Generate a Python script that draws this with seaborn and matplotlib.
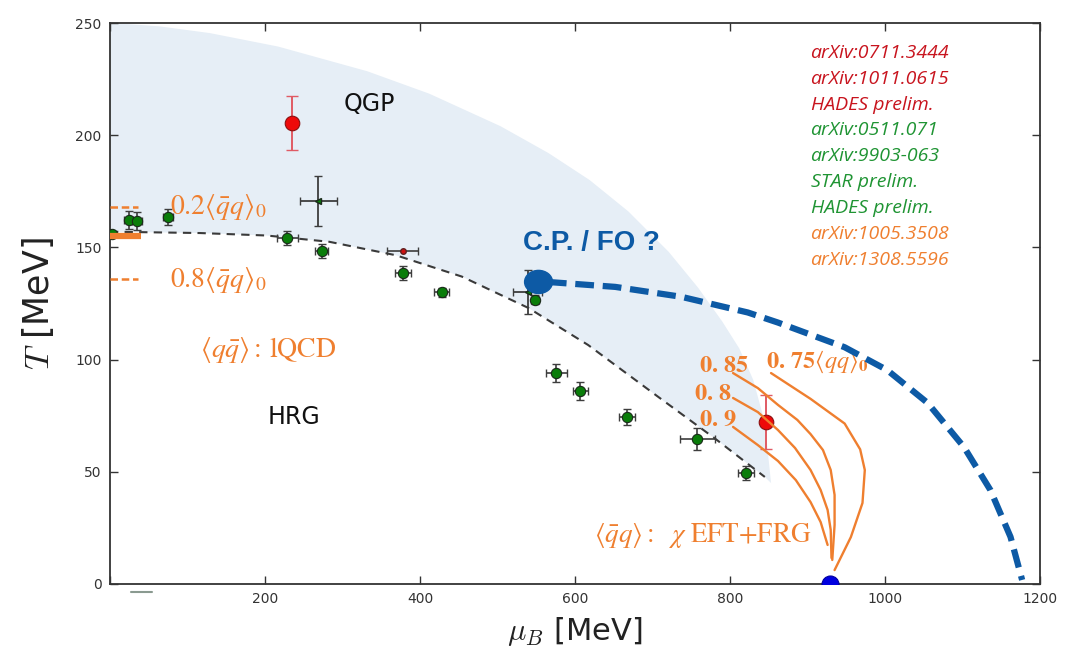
import numpy as np
import matplotlib
matplotlib.use("Agg")
import matplotlib.pyplot as plt
from matplotlib.patches import Ellipse
import seaborn as sns

# ---------------- data ----------------
# shaded QGP band: upper edge and lower edge (lower edge = freeze-out curve)
band_mu_up = [0, 4, 64, 129, 217, 332, 412, 504, 566, 619, 669, 721, 759, 790, 812, 830, 845, 853]
band_T_up = [250, 250, 248.5, 245.5, 239.5, 228.5, 218.5, 204, 192, 180, 166, 148, 132, 117, 105, 91, 72, 45]

fo_mu = [0, 116, 202, 283, 369, 454, 540, 617, 707, 780, 845]
fo_T = [157, 156.4, 155.3, 152.5, 146.5, 137, 123, 106.5, 83.5, 65, 47.7]

# freeze-out data (green circles)
g_mu = [2, 24, 35, 75, 229, 273, 378, 428, 548, 576, 607, 667, 758, 821]
g_T = [156, 162.2, 161.8, 163.5, 154.2, 148.4, 138.6, 130.1, 126.6, 94, 86, 74.4, 64.6, 49.5]
g_xerr = [0, 6, 6, 6, 13, 8, 10, 10, 5, 14, 10, 10, 23, 10]
g_yerr = [0, 4, 4, 3.5, 3, 3, 3, 2, 2, 4, 4, 3.5, 5, 3]

# STAR prelim (green triangles, large errors)
s_mu = [269, 539]
s_T = [170.7, 130.1]
s_xerr = [24, 19]
s_yerr = [11, 10]

# red points
r_mu = [235, 846]
r_T = [205.4, 72.2]
r_yerr = [12, 12]
rs_mu, rs_T, rs_xerr = [378], [148.4], [20]

# critical point / first order line
cp_mu, cp_T = 553, 134.6
fol_mu = [565, 652, 737, 823, 862, 948, 1003, 1055, 1102, 1136, 1162, 1177]
fol_T = [134.6, 132.4, 128, 121, 116.5, 105.5, 95.3, 80.7, 61, 41.9, 21, 1.8]

# nuclear matter point
nm_mu, nm_T = 929, 0

# chiral condensate contours (chiEFT+FRG)
c75_mu = [853, 904, 948, 968, 974, 971, 956, 935]
c75_T = [94, 82.5, 71.5, 60, 50.8, 36.1, 20.9, 6.2]
c85_mu = [804, 836, 862, 887, 904, 920, 930, 935, 935, 932]
c85_T = [94, 87.3, 79.8, 73.1, 66.8, 59.7, 50.8, 39.7, 26.3, 10.7]
c80_mu = [804, 836, 862, 884, 904, 917, 926, 930, 931]
c80_T = [82.9, 76.6, 68.6, 60.6, 50.8, 41.9, 33, 24.1, 11.6]
c90_mu = [804, 836, 862, 885, 904, 917, 926]
c90_T = [70, 61.9, 54.8, 46.3, 36.5, 27.6, 17.4]

# lattice QCD condensate levels
lqcd_T_02, lqcd_T_05, lqcd_T_08 = 168, 155, 136

refs = ["arXiv:0711.3444", "arXiv:1011.0615", "HADES prelim.",
        "arXiv:0511.071", "arXiv:9903-063", "STAR prelim.", "HADES prelim.",
        "arXiv:1005.3508", "arXiv:1308.5596"]
ref_groups = ["red"] * 3 + ["green"] * 4 + ["orange"] * 2

# ---------------- styling ----------------
ORANGE = "#ef7f2f"
BLUE = "#0d5aa5"
SHADE = "#e6eef6"
ref_col = {"red": "#c8141e", "green": "#1f9433", "orange": ORANGE}

sns.set_style("ticks")
plt.rcParams["font.family"] = ["DejaVu Sans"]

fig = plt.figure(figsize=(10.73, 6.61), dpi=100)
ax = fig.add_axes([0.1025, 0.1165, 0.8667, 0.8487])

# band
poly_mu = band_mu_up + fo_mu[::-1]
poly_T = band_T_up + fo_T[::-1]
ax.fill(poly_mu, poly_T, color=SHADE, lw=0, zorder=0)

# freeze-out curve
sns.lineplot(x=fo_mu, y=fo_T, ax=ax, sort=False, estimator=None, color="#3a3a3a",
             lw=1.5, linestyle=(0, (4, 3)), zorder=2)

# lattice levels on the left
ax.plot([0, 40], [lqcd_T_05] * 2, color=ORANGE, lw=4.5, solid_capstyle="butt", zorder=6)
for tv in (lqcd_T_02, lqcd_T_08):
    ax.plot([0, 36], [tv] * 2, color=ORANGE, lw=1.8, linestyle=(0, (3, 1.5)), zorder=6)

# data points
ax.errorbar(g_mu, g_T, xerr=g_xerr, yerr=g_yerr, fmt="none", ecolor="#3d3d3d",
            elinewidth=1.2, capsize=3, zorder=3)
sns.scatterplot(x=g_mu, y=g_T, ax=ax, color="#0a7d0a", edgecolor="#1a2a1a",
                s=55, linewidth=0.8, zorder=4)
ax.errorbar(s_mu, s_T, xerr=s_xerr, yerr=s_yerr, fmt="<", color="#0a7d0a", mec="#1a2a1a",
            ms=5, ecolor="#3d3d3d", elinewidth=1.3, capsize=3, zorder=4)
ax.errorbar(r_mu, r_T, yerr=r_yerr, fmt="none", ecolor="#e05a64", elinewidth=1.4,
            capsize=4, zorder=3)
sns.scatterplot(x=r_mu, y=r_T, ax=ax, color="#ee0a0a", edgecolor="#8a1010",
                s=110, linewidth=0.8, zorder=5)
ax.errorbar(rs_mu, rs_T, xerr=rs_xerr, fmt="o", color="#d01010", mec="#602020", ms=4,
            ecolor="#3d3d3d", elinewidth=1.2, capsize=3, zorder=4)

# chiral contours
for cm, ct in [(c75_mu, c75_T), (c85_mu, c85_T), (c80_mu, c80_T), (c90_mu, c90_T)]:
    sns.lineplot(x=cm, y=ct, ax=ax, sort=False, estimator=None, color=ORANGE, lw=1.7, zorder=6)

# first order line + critical point
sns.lineplot(x=fol_mu, y=fol_T, ax=ax, sort=False, estimator=None, color=BLUE, lw=4.5,
             linestyle=(0, (3, 1.4)), zorder=8)
ax.add_patch(Ellipse((cp_mu, cp_T), 36, 10.3, color=BLUE, zorder=9))
sns.scatterplot(x=[nm_mu], y=[nm_T], ax=ax, color="#0000e0", edgecolor="#0000a0",
                s=150, linewidth=0.8, zorder=9)

# labels
ax.text(334, 214, "QGP", fontsize=17, ha="center", va="center", color="#111111")
ax.text(237, 74.4, "HRG", fontsize=17, ha="center", va="center", color="#111111")
ax.text(621, 152, "C.P. / FO ?", fontsize=20, ha="center", va="center", color=BLUE,
        fontweight="bold", family="Liberation Sans")

mkw = dict(color=ORANGE, va="center", ha="left", math_fontfamily="stix")
ax.text(77, 168, r"$0.2\langle\bar{q}q\rangle_0$", fontsize=20, **mkw)
ax.text(77, 135.5, r"$0.8\langle\bar{q}q\rangle_0$", fontsize=20, **mkw)
ax.text(116, 104.3, r"$\langle q\bar{q}\rangle\mathrm{:\,lQCD}$", fontsize=20, **mkw)
ax.text(624, 21.8, r"$\langle\bar{q}q\rangle\mathrm{:}\ \ \chi\ \mathrm{EFT{+}FRG}$", fontsize=19.5, **mkw)
ax.text(760, 97.6, r"$\mathbf{0.\,85}$", fontsize=17.5, **mkw)
ax.text(753, 85, r"$\mathbf{0.\,8}$", fontsize=17.5, **mkw)
ax.text(760, 73.5, r"$\mathbf{0.\,9}$", fontsize=17.5, **mkw)
ax.text(846, 99, r"$\mathbf{0.\,75}\langle\mathit{qq}\rangle_{\mathbf{0}}$", fontsize=17.5, zorder=7, **mkw)

for i, (txt, grp) in enumerate(zip(refs, ref_groups)):
    ax.text(904, 236.6 - 11.5 * i, txt, color=ref_col[grp], fontsize=14, style="italic",
            family="Open Sans", ha="left", va="center")

# axes
ax.set_xlim(0, 1200)
ax.set_ylim(0, 250)
ax.set_xticks(range(0, 1201, 200))
ax.set_xticklabels([""] + [str(v) for v in range(200, 1201, 200)])
ax.set_yticks(range(0, 251, 50))
ax.tick_params(direction="in", length=6, width=1, top=True, right=True,
               labelsize=10, labelcolor="#333333", color="#333333", pad=6)
for sp in ax.spines.values():
    sp.set_color("#333333")
    sp.set_linewidth(1.3)
    sp.set_visible(True)
ax.plot([27, 54], [-3.6, -3.6], color="#8a9a90", lw=1.5, clip_on=False)

ax.set_xlabel(r"$\mu_B$ [MeV]", fontsize=22, math_fontfamily="cm", labelpad=6, color="#222222")
ax.set_ylabel(r"$T$ [MeV]", fontsize=25, math_fontfamily="cm", labelpad=14, color="#222222")

fig.savefig("out.png", dpi=100)
